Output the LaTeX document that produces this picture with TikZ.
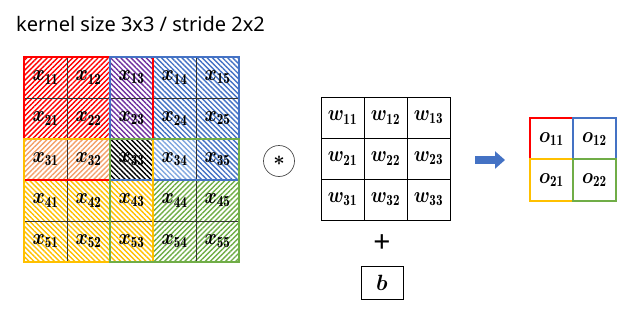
\RequirePackage{fix-cm}
\documentclass[tikz,border=0pt]{standalone}
\usepackage{amsmath}
\usepackage{bm}
\usepackage{graphicx}
\usepackage{fontspec}
\newfontfamily\titlefont{Noto Sans}
\usetikzlibrary{patterns.meta}
\usetikzlibrary{arrows.meta}

\definecolor{kred}{HTML}{FF0000}
\definecolor{kblue}{HTML}{4472C4}
\definecolor{kyellow}{HTML}{FFC000}
\definecolor{kgreen}{HTML}{70AD47}
\definecolor{kpurple}{HTML}{7030A0}
\definecolor{korange}{HTML}{F4A06A}
\definecolor{klightblue}{HTML}{7FA6DE}

% cell label: bold letter with bold index
\newcommand{\vlab}[2]{\scalebox{1.1}[1.3]{$\bm{#1}_{\mathbf{#2}}$}}

\tikzset{
    hatch/.style 2 args={pattern={Lines[angle=#2,distance=3.6pt,line width=1.4pt]}, pattern color=#1},
    lbl/.style={inner sep=0pt, font=\fontsize{17}{20}\selectfont},
    frame/.style={line width=1.8pt},
    cellline/.style={line width=0.7pt, black!80},
}

\begin{document}
\begin{tikzpicture}[x=1pt,y=-1pt]

    \useasboundingbox (0,0) rectangle (640,324);

    % Title
    \node[anchor=base west, inner sep=0pt, font=\titlefont\fontsize{20}{24}\selectfont]
        (title) at (16,31) {kernel size 3x3 / stride 2x2};

    % Input 5x5: cell width 43, height 41, top left at (24,57)
    % Hatched areas (x0,y0,x1,y1,colour,angle)
    \foreach \xa/\ya/\xb/\yb/\col/\ang in {
        24/57/110/139/kred/45,
        110/57/153/139/kpurple/-45,
        153/57/239/139/kblue/-45,
        196/139/239/180/kblue/-45,
        153/139/196/180/klightblue/-45,
        24/139/110/180/korange/45,
        110/139/153/180/black/-45,
        24/180/153/262/kyellow/-45,
        153/180/239/262/kgreen/45}
        \fill[hatch={\col}{\ang}] (\xa,\ya) rectangle (\xb,\yb);

    % Cell lines
    \foreach \k in {1,...,4} {
        \draw[cellline] ({24+43*\k},57) -- ({24+43*\k},262);
        \draw[cellline] (24,{57+41*\k}) -- (239,{57+41*\k});
    }

    % Kernel windows
    \draw[frame, kred] (24,57) rectangle (153,180);
    \draw[frame, kblue] (110,57) rectangle (239,180);
    \draw[frame, kyellow] (24,139) rectangle (153,262);
    \draw[frame, kgreen] (110,139) rectangle (239,262);

    % Input labels
    \foreach \i in {1,...,5}
        \foreach \j in {1,...,5}
            \node[lbl] (x\i\j) at ({24+43*(\j-0.5)},{57+41*(\i-0.5)}) {\vlab{x}{\i\j}};

    % Convolution sign
    \node[circle, draw=black!70, line width=0.7pt, minimum size=31pt, inner sep=0pt,
        font=\fontsize{20}{20}\selectfont] (conv) at (279,161) {$\bm{*}$};

    % Weights 3x3, top left at (321,97)
    \draw[cellline, black] (321,97) rectangle (450,220);
    \foreach \k in {1,2} {
        \draw[cellline, black] ({321+43*\k},97) -- ({321+43*\k},220);
        \draw[cellline, black] (321,{97+41*\k}) -- (450,{97+41*\k});
    }
    \foreach \i in {1,2,3}
        \foreach \j in {1,2,3}
            \node[lbl] (w\i\j) at ({321+43*(\j-0.5)},{97+41*(\i-0.5)}) {\vlab{w}{\i\j}};

    % Bias
    \node[font=\titlefont\bfseries\fontsize{30}{30}\selectfont, inner sep=0pt] (plus) at (382,244) {+};
    \node[draw, cellline, black, minimum width=42pt, minimum height=33pt, lbl] (bias) at (382,282.5)
        {\scalebox{1.3}{$\bm{b}$}};

    % Arrow
    \coordinate (arrS) at (475,160);
    \coordinate (arrE) at (505,160);
    \draw[kblue, line width=8pt, -{Triangle[length=10pt,width=17pt]}] (arrS) -- (arrE);

    % Output 2x2
    \draw[frame, kred] (530,118) rectangle (573,159);
    \draw[frame, kblue] (573,118) rectangle (616,159);
    \draw[frame, kyellow] (530,159) rectangle (573,201);
    \draw[frame, kgreen] (573,159) rectangle (616,201);
    \foreach \i in {1,2}
        \foreach \j in {1,2}
            \node[lbl] (o\i\j) at ({530+43*(\j-0.5)},{118+41.5*(\i-0.5)}) {\vlab{o}{\i\j}};

\end{tikzpicture}
\end{document}
